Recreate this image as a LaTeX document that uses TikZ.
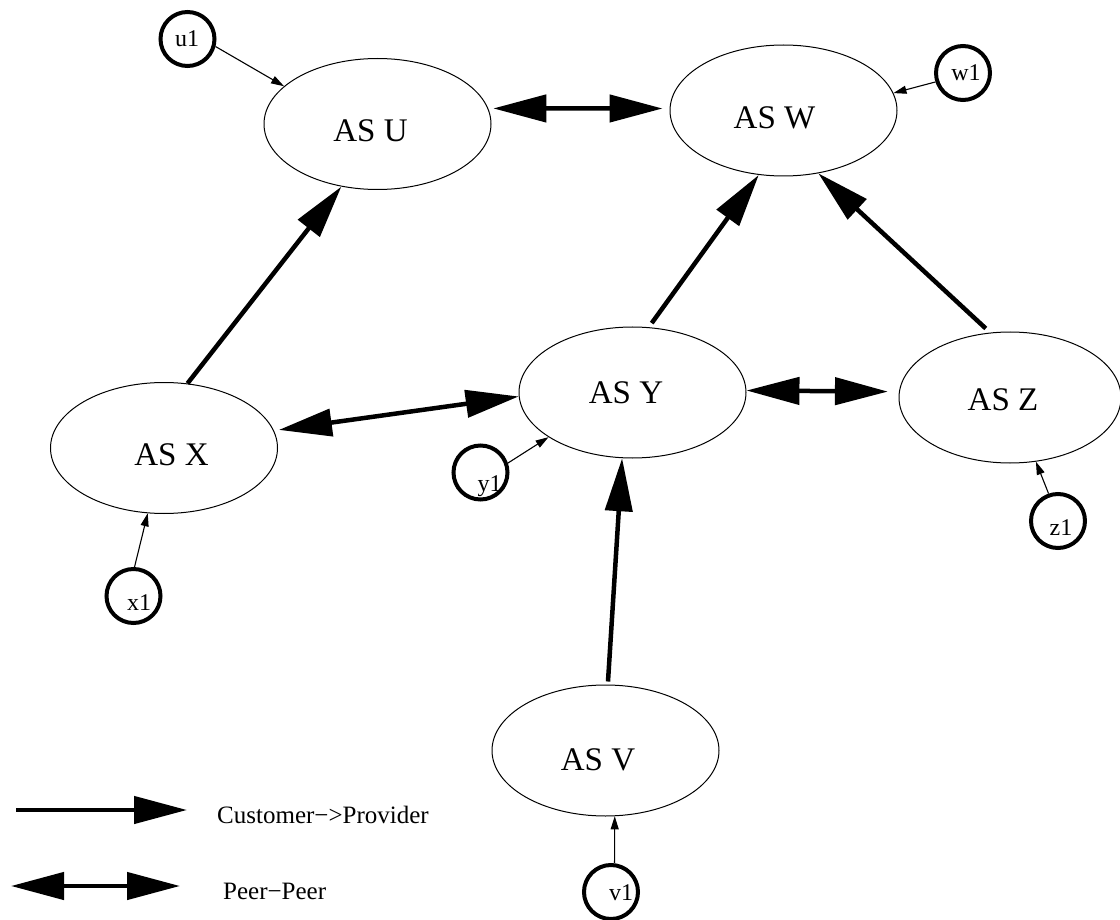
\documentclass[tikz,border=0pt]{standalone}
\usepackage{fontspec}
\setmainfont{Liberation Serif}
\usetikzlibrary{arrows.meta,shapes.geometric}
\begin{document}
\begin{tikzpicture}[x=1pt,y=-1pt,
 asnode/.style={draw,ellipse,line width=1pt,inner sep=0pt,minimum width=227pt,minimum height=131pt},
 aslabel/.style={font=\fontsize{33}{38}\selectfont,inner sep=0pt},
 hostnode/.style={draw,circle,line width=4pt,inner sep=0pt,minimum size=54pt},
 hostlabel/.style={font=\fontsize{24}{28}\selectfont,inner sep=0pt,anchor=base},
 cp/.style={line width=4.5pt,-{Triangle[length=53pt,width=27pt]}},
 pp/.style={line width=4.5pt,{Triangle[length=53pt,width=27pt]}-{Triangle[length=53pt,width=27pt]}},
 attach/.style={line width=1.1pt,-{Triangle[length=13pt,width=8pt]}},
 legend/.style={font=\fontsize{25}{30}\selectfont,inner sep=0pt,anchor=west}]
\useasboundingbox (0,0) rectangle (1120,920);
% AS ellipses
\node[asnode] (U) at (377.5,124) {};
\node[asnode] (W) at (783.5,110.5) {};
\node[asnode] (Y) at (632.5,392.5) {};
\node[asnode] (X) at (164,448) {};
\node[asnode,minimum width=222pt] (Z) at (1010,397.5) {};
\node[asnode] (V) at (605.5,750.5) {};
\node[aslabel] (Ul) at (370.5,131) {AS U};
\node[aslabel] (Wl) at (774.5,117.5) {AS W};
\node[aslabel] (Yl) at (626,393) {AS Y};
\node[aslabel] (Xl) at (171.5,455) {AS X};
\node[aslabel] (Zl) at (1003,400) {AS Z};
\node[aslabel] (Vl) at (598,760) {AS V};
% hosts
\node[hostnode] (u1) at (187.5,39) {};
\node[hostnode] (w1) at (963,73) {};
\node[hostnode] (y1) at (480.5,472.5) {};
\node[hostnode] (z1) at (1058,521) {};
\node[hostnode] (x1) at (133.5,596) {};
\node[hostnode] (v1) at (611,892) {};
\node[hostlabel] (u1l) at (187,47) {u1};
\node[hostlabel] (w1l) at (966,81) {w1};
\node[hostlabel] (y1l) at (489.5,491) {y1};
\node[hostlabel] (z1l) at (1061,535) {z1};
\node[hostlabel] (x1l) at (139,610) {x1};
\node[hostlabel] (v1l) at (621,900) {v1};
% host attachments
\draw[attach] (u1.-15) -- (U.158);
\draw[attach] (w1.198) -- (W.9);
\draw[attach] (y1.19) -- (Y.208);
\draw[attach] (z1.109) -- (Z.292);
\draw[attach] (x1.88) -- (X.256);
\draw[attach] (v1.83) -- (V.278);
% customer -> provider
\draw[cp] (X.70) -- (U.240);
\draw[cp,shorten <=5pt] (Y.76) -- (W.249);
\draw[cp,shorten <=6pt] (Z.107) -- (W.299);
\draw[cp,shorten <=3pt] (V.88) -- (Y.261);
% peer - peer
\draw[pp,shorten <=5pt] (X.9) -- (Y.182);
\draw[pp,shorten <=5pt,shorten >=7pt] (U.8) -- (W.179);
\draw[pp,shorten >=11pt] (Y.1) -- (Z.177);
% legend
\coordinate (cpA) at (16,810);
\coordinate (cpB) at (187,810);
\draw[cp] (cpA) -- (cpB);
\coordinate (ppA) at (11,886);
\coordinate (ppB) at (180,886);
\draw[pp] (ppA) -- (ppB);
\node[legend] (cpL) at (217,815) {Customer−>Provider};
\node[legend] (ppL) at (223,891) {Peer−Peer};
\end{tikzpicture}
\end{document}
